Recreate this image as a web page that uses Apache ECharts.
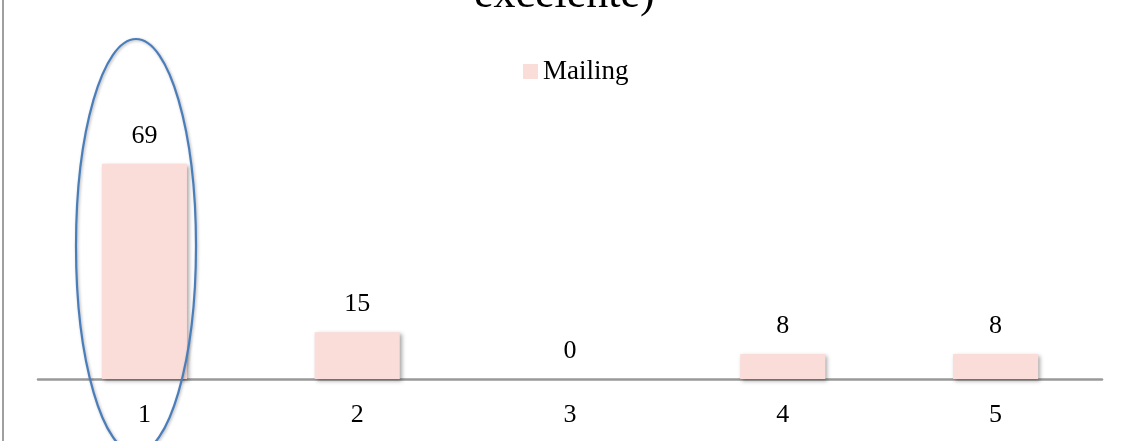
<!DOCTYPE html>
<html>
<head>
<meta charset="utf-8">
<script src="https://cdn.jsdelivr.net/npm/echarts@6/dist/echarts.min.js"></script>
<style>
  html, body { margin: 0; padding: 0; background: #fff; }
  #chart { width: 1126px; height: 441px; }
</style>
</head>
<body>
<div id="chart"></div>
<script>
// chart data
var categories = ['1', '2', '3', '4', '5'];
var mailing = [69, 15, 0, 8, 8];
var seriesName = 'Mailing';
var titleText = 'excelente)';

var serif = '"Liberation Serif", "DejaVu Serif", serif';

var chart = echarts.init(document.getElementById('chart'));
var option = {
  animation: false,
  title: {
    text: titleText,
    left: 474,
    top: -27,
    padding: 0,
    textStyle: { fontFamily: serif, fontSize: 44, lineHeight: 44, fontWeight: 'normal', color: '#000' }
  },
  legend: {
    data: [seriesName],
    left: 523,
    top: 58,
    padding: 0,
    itemWidth: 15,
    itemHeight: 15,
    icon: 'rect',
    textStyle: { fontFamily: serif, fontSize: 27, color: '#000' }
  },
  grid: { left: 38, right: 24, top: 67, bottom: 62 },
  xAxis: {
    type: 'category',
    data: categories,
    axisTick: { show: false },
    axisLine: { lineStyle: { color: '#999', width: 2.5 } },
    axisLabel: { margin: 23, fontFamily: serif, fontSize: 26, color: '#000' }
  },
  yAxis: {
    type: 'value',
    min: 0,
    max: 100,
    show: false,
    splitLine: { show: false }
  },
  series: [{
    name: seriesName,
    type: 'bar',
    data: mailing,
    barWidth: '40%',
    itemStyle: {
      color: '#fadcd9',
      shadowColor: 'rgba(0,0,0,0.35)',
      shadowBlur: 4,
      shadowOffsetX: 2,
      shadowOffsetY: 2
    },
    label: {
      show: true,
      position: 'top',
      distance: 15,
      fontFamily: serif,
      fontSize: 26,
      color: '#000'
    }
  }],
  graphic: [
    {
      type: 'line',
      shape: { x1: 3, y1: 0, x2: 3, y2: 441 },
      style: { stroke: '#a0a0a0', lineWidth: 2 },
      z: 10
    },
    {
      type: 'ellipse',
      shape: { cx: 136, cy: 246, rx: 60, ry: 207 },
      style: {
        fill: null,
        stroke: '#4a7ebb',
        lineWidth: 2.2,
        shadowColor: 'rgba(0,0,0,0.3)',
        shadowBlur: 3,
        shadowOffsetX: 1,
        shadowOffsetY: 1
      },
      z: 10
    }
  ]
};
chart.setOption(option);
</script>
</body>
</html>
